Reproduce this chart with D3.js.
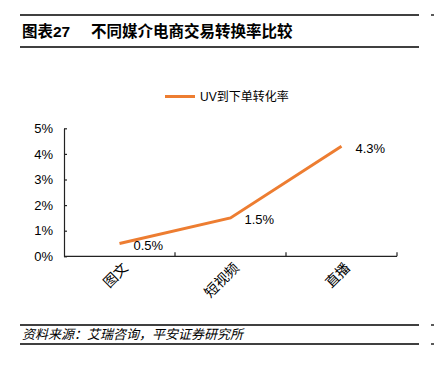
<!DOCTYPE html>
<html>
<head>
<meta charset="utf-8">
<script src="https://cdn.jsdelivr.net/npm/d3@7"></script>
<style>
  body { margin: 0; background: #fff; }
  svg { display: block; }
  text { font-family: "Liberation Sans", Arial, "Noto Sans CJK SC", sans-serif; fill: #000; }
</style>
</head>
<body>
<svg id="chart" width="434" height="370"></svg>
<script>
const categories = ['图文', '短视频', '直播'];
const values = [0.5, 1.5, 4.3];
const valueLabels = ['0.5%', '1.5%', '4.3%'];
const yTicks = [0, 1, 2, 3, 4, 5];
const seriesName = 'UV到下单转化率';
const title = ['图表27', '不同媒介电商交易转换率比较'];
const source = '资料来源：艾瑞咨询，平安证券研究所';

const svg = d3.select('#chart');
const orange = '#ED7D31';

// header and footer rules
const rules = [15, 47, 325, 344];
svg.selectAll('line.rule')
  .data(rules)
  .enter()
  .append('line')
  .attr('x1', 20).attr('x2', 419)
  .attr('y1', d => d).attr('y2', d => d)
  .attr('stroke', '#000')
  .attr('stroke-width', 1.3);

svg.selectAll('line.stub')
  .data([15, 325, 344])
  .enter()
  .append('line')
  .attr('x1', 431).attr('x2', 434)
  .attr('y1', d => d).attr('y2', d => d)
  .attr('stroke', '#000')
  .attr('stroke-width', 1.3);

svg.append('text')
  .attr('x', 22).attr('y', 37)
  .style('font-size', '15.5px')
  .style('font-weight', 'bold')
  .text(title[0]);
svg.append('text')
  .attr('x', 91).attr('y', 37)
  .style('font-size', '15.5px')
  .style('font-weight', 'bold')
  .text(title[1]);

svg.append('text')
  .attr('x', 22).attr('y', 339)
  .style('font-size', '13px')
  .style('font-style', 'italic')
  .style('font-family', '"Noto Sans CJK SC", sans-serif')
  .text(source);

// scales
const x = d3.scaleBand().domain(categories).range([64, 397]).padding(0);
const y = d3.scaleLinear().domain([0, 5]).range([256.3, 128.3]);
const cx = d => x(d) + x.bandwidth() / 2;

// y axis
const yAxis = svg.append('g')
  .attr('transform', 'translate(64,0)')
  .call(d3.axisLeft(y).tickValues(yTicks).tickFormat(d => d + '%').tickSizeInner(-3).tickSizeOuter(0).tickPadding(11));
yAxis.select('.domain').attr('stroke', '#222').attr('stroke-width', 1.2);
yAxis.selectAll('.tick line').attr('stroke', '#222').attr('stroke-width', 1.2);
yAxis.selectAll('.tick text').style('font-size', '13px').attr('fill', '#000');

// x axis
const xg = svg.append('g');
xg.append('line')
  .attr('x1', 64).attr('x2', 397)
  .attr('y1', y(0)).attr('y2', y(0))
  .attr('stroke', '#222').attr('stroke-width', 1.2);
xg.selectAll('line.xt')
  .data(categories)
  .enter()
  .append('line')
  .attr('x1', d => x(d) + x.bandwidth()).attr('x2', d => x(d) + x.bandwidth())
  .attr('y1', y(0)).attr('y2', y(0) - 4)
  .attr('stroke', '#222').attr('stroke-width', 1.2);
xg.selectAll('text')
  .data(categories)
  .enter()
  .append('text')
  .attr('transform', d => `translate(${cx(d) + 6},${y(0) + 9}) rotate(-45)`)
  .attr('text-anchor', 'end')
  .attr('dy', '0.35em')
  .style('font-size', '14px')
  .style('font-family', '"Noto Sans CJK SC", sans-serif')
  .text(d => d);

// line
const line = d3.line()
  .x((d, i) => cx(categories[i]))
  .y(d => y(d));
svg.append('path')
  .datum(values)
  .attr('d', line)
  .attr('fill', 'none')
  .attr('stroke', orange)
  .attr('stroke-width', 3);

svg.selectAll('text.val')
  .data(values)
  .enter()
  .append('text')
  .attr('class', 'val')
  .attr('x', (d, i) => cx(categories[i]) + 14)
  .attr('y', d => y(d) + 2)
  .attr('dy', '0.35em')
  .style('font-size', '13px')
  .text((d, i) => valueLabels[i]);

// legend
svg.append('line')
  .attr('x1', 165).attr('x2', 195)
  .attr('y1', 96.5).attr('y2', 96.5)
  .attr('stroke', orange).attr('stroke-width', 3);
svg.append('text')
  .attr('x', 200).attr('y', 96.5)
  .attr('dy', '0.35em')
  .style('font-size', '12px')
  .text(seriesName);
</script>
</body>
</html>
